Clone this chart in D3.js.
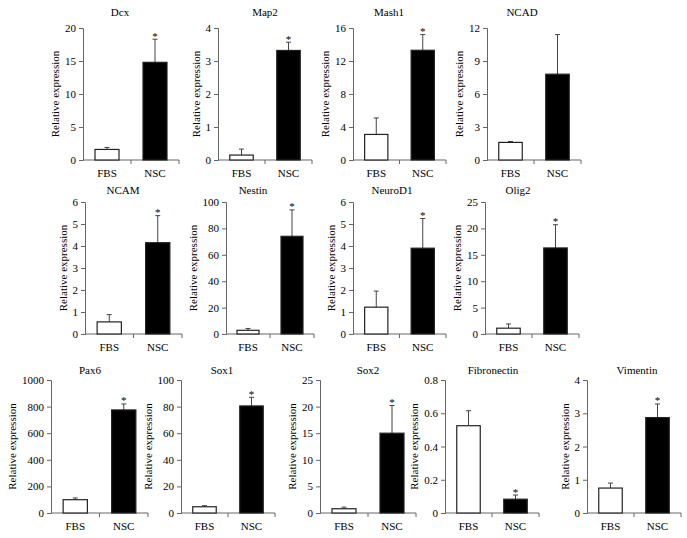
<!DOCTYPE html>
<html>
<head>
<meta charset="utf-8">
<script src="https://cdn.jsdelivr.net/npm/d3@7"></script>
<style>
  body { margin: 0; background: #fff; }
  svg { display: block; }
</style>
</head>
<body>
<svg width="687" height="538"></svg>
<script>
// data
const groups = ["FBS", "NSC"];
const genes = ["Dcx", "Map2", "Mash1", "NCAD", "NCAM", "Nestin", "NeuroD1", "Olig2",
               "Pax6", "Sox1", "Sox2", "Fibronectin", "Vimentin"];
const fbsMean = [1.6, 0.15, 3.1, 1.6, 0.55, 2.8, 1.22, 1.1, 100, 4.7, 0.8, 0.525, 0.75];
const fbsErr  = [0.3, 0.18, 2.0, 0.08, 0.33, 1.4, 0.73, 0.8, 13, 0.8, 0.3, 0.09, 0.15];
const nscMean = [14.8, 3.32, 13.3, 7.8, 4.15, 74, 3.9, 16.3, 775, 80.5, 15, 0.083, 2.87];
const nscErr  = [3.5, 0.25, 1.9, 3.6, 1.23, 20, 1.35, 4.4, 45, 6.5, 5.2, 0.025, 0.41];
const yMax    = [20, 4, 16, 12, 6, 100, 6, 25, 1000, 100, 25, 0.8, 4];
const yStep   = [5, 1, 4, 3, 1, 20, 1, 5, 200, 20, 5, 0.2, 1];
// which group carries the significance star (null = none)
const star    = ["NSC", "NSC", "NSC", null, "NSC", "NSC", "NSC", "NSC", "NSC", "NSC", "NSC", "NSC", "NSC"];

// layout of each panel: axis origin x, width, title x
const panelX  = [83, 218, 353, 487, 85, 226, 353, 485, 51, 181, 320, 445, 587];
const panelW  = [96, 94, 93, 94, 97, 88, 93, 94, 97, 94, 96, 94, 94];
const titleX  = [120, 265, 389, 522, 123, 253, 392, 518, 90, 222, 368, 493, 637];
const rowOf   = [0, 0, 0, 0, 1, 1, 1, 1, 2, 2, 2, 2, 2];
const rowTop  = [28, 202, 380];
const rowZero = [160, 334, 513];
const rowTitle = [16, 194, 374];

const font = "Liberation Serif";
const svg = d3.select("svg").attr("font-family", font);
const axisColor = "#666";

genes.forEach((gene, i) => {
  const r = rowOf[i];
  const x0 = panelX[i], w = panelW[i];
  const g = svg.append("g").attr("transform", `translate(${x0},0)`);

  const y = d3.scaleLinear().domain([0, yMax[i]]).range([rowZero[r], rowTop[r]]);
  const x = d3.scaleBand().domain(groups).range([0, w]).paddingInner(0.5).paddingOuter(0.25);

  const vals = [
    {grp: "FBS", mean: fbsMean[i], err: fbsErr[i]},
    {grp: "NSC", mean: nscMean[i], err: nscErr[i]}
  ];

  // y axis
  const ticks = d3.range(0, yMax[i] + yStep[i] / 2, yStep[i]);
  const yAxis = g.append("g")
    .call(d3.axisLeft(y).tickValues(ticks).tickSize(4).tickPadding(3)
      .tickFormat(d => +d.toFixed(2)));
  yAxis.attr("font-family", font).attr("font-size", 11);
  yAxis.select(".domain").attr("stroke", axisColor);
  yAxis.selectAll(".tick line").attr("stroke", axisColor);
  yAxis.selectAll(".tick text").attr("fill", "#000");

  // x axis: baseline with ticks at band edges
  g.append("line").attr("x1", 0).attr("x2", w)
    .attr("y1", y(0)).attr("y2", y(0)).attr("stroke", axisColor);
  [w / 2, w].forEach(t => {
    g.append("line").attr("x1", t).attr("x2", t)
      .attr("y1", y(0)).attr("y2", y(0) + 4).attr("stroke", axisColor);
  });
  g.selectAll(".xlab").data(groups).enter().append("text")
    .attr("x", d => x(d) + x.bandwidth() / 2)
    .attr("y", y(0) + 17)
    .attr("text-anchor", "middle")
    .attr("font-family", font)
    .attr("font-size", 11)
    .text(d => d);

  // error bars (upper only)
  vals.forEach(v => {
    const cx = x(v.grp) + x.bandwidth() / 2;
    g.append("line").attr("x1", cx).attr("x2", cx)
      .attr("y1", y(v.mean)).attr("y2", y(v.mean + v.err))
      .attr("stroke", "#444").attr("stroke-width", 1);
    g.append("line").attr("x1", cx - 2.5).attr("x2", cx + 2.5)
      .attr("y1", y(v.mean + v.err)).attr("y2", y(v.mean + v.err))
      .attr("stroke", "#444").attr("stroke-width", 1);
  });

  // bars
  g.selectAll(".bar").data(vals).enter().append("rect")
    .attr("x", d => x(d.grp))
    .attr("y", d => y(d.mean))
    .attr("width", x.bandwidth())
    .attr("height", d => y(0) - y(d.mean))
    .attr("fill", d => d.grp === "FBS" ? "#fff" : "#000")
    .attr("stroke", "#222")
    .attr("stroke-width", 1.2);

  // significance star
  if (star[i]) {
    const v = vals.find(d => d.grp === star[i]);
    g.append("text")
      .attr("x", x(v.grp) + x.bandwidth() / 2)
      .attr("y", y(v.mean + v.err) + 0.5)
      .attr("text-anchor", "middle")
      .attr("font-family", font)
      .attr("font-size", 11)
      .text("*");
  }

  // y label, placed left of the tick labels
  const bb = yAxis.node().getBBox();
  g.append("text")
    .attr("transform", `translate(${bb.x - 6},${(y(0) + y(yMax[i])) / 2}) rotate(-90)`)
    .attr("text-anchor", "middle")
    .attr("font-family", font)
    .attr("font-size", 11)
    .text("Relative expression");

  // title
  svg.append("text")
    .attr("x", titleX[i])
    .attr("y", rowTitle[r])
    .attr("text-anchor", "middle")
    .attr("font-family", font)
    .attr("font-size", 11)
    .text(gene);
});
</script>
</body>
</html>
